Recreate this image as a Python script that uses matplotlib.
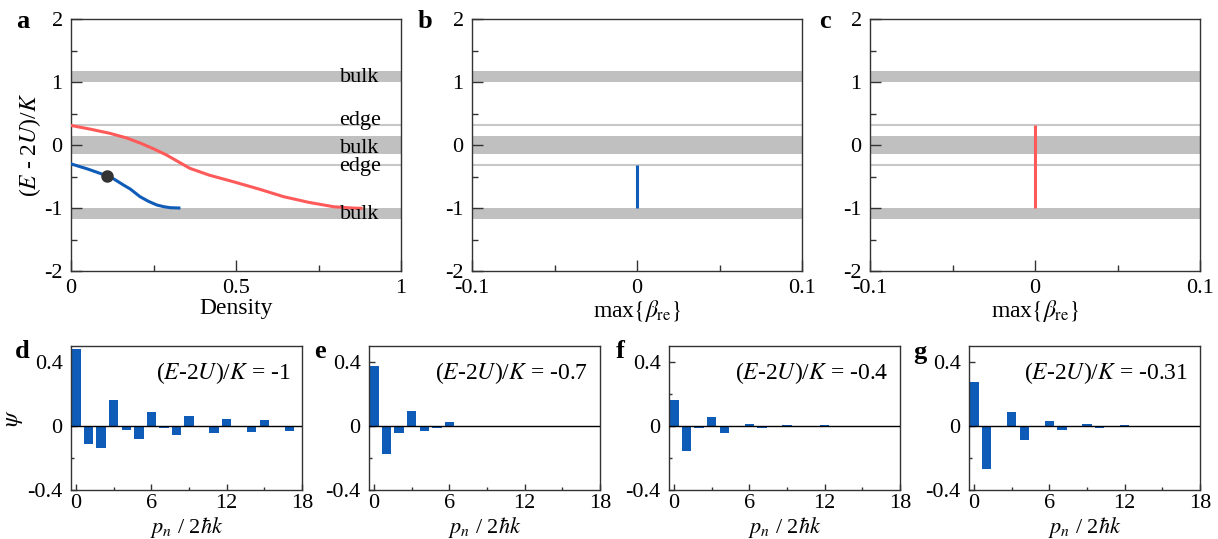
import matplotlib
matplotlib.use("Agg")
import matplotlib.pyplot as plt
from matplotlib.ticker import MultipleLocator

plt.rcParams['font.family'] = ['Liberation Serif', 'DejaVu Serif']
plt.rcParams['mathtext.fontset'] = 'stix'

# --- donnees panneau a ---
red_density = [0.0, 0.06, 0.118, 0.17, 0.21, 0.25, 0.29, 0.33, 0.36, 0.42, 0.49, 0.57, 0.644, 0.72, 0.796, 0.85, 0.879]
red_energy = [0.31, 0.25, 0.185, 0.11, 0.03, -0.06, -0.16, -0.28, -0.37, -0.48, -0.58, -0.70, -0.82, -0.91, -0.98, -1.0, -1.005]
blue_density = [0.0, 0.05, 0.108, 0.13, 0.159, 0.18, 0.209, 0.235, 0.26, 0.28, 0.30, 0.327]
blue_energy = [-0.30, -0.38, -0.487, -0.54, -0.635, -0.70, -0.82, -0.895, -0.952, -0.978, -0.995, -1.0]
marker_point = (0.11, -0.49)

bulk_bands = [(1.0, 1.17), (-0.14, 0.14), (-1.17, -1.0)]
edge_levels = [0.31, -0.31]
band_labels = [("bulk", 1.0), ("edge", 0.31), ("bulk", -0.13), ("edge", -0.42), ("bulk", -1.18)]

# --- panneaux b et c ---
b_range = (-1.0, -0.31)
c_range = (-1.0, 0.31)

# --- panneaux d-g : amplitudes psi ---
pn = list(range(18))
psi_d = [0.483, -0.113, -0.135, 0.163, -0.027, -0.081, 0.09, -0.013, -0.056, 0.06, -0.008, -0.044, 0.046, -0.006, -0.035, 0.038, -0.004, -0.029]
psi_e = [0.377, -0.173, -0.046, 0.094, -0.033, -0.013, 0.025, -0.008, -0.002, 0.002, -0.001, 0.001, 0, 0, 0, 0, 0, 0]
psi_f = [0.165, -0.154, -0.01, 0.054, -0.042, -0.004, 0.015, -0.013, 0.0, 0.006, -0.006, 0.0, 0.004, 0, 0, 0, 0, 0]
psi_g = [0.273, -0.269, 0.0, 0.09, -0.085, 0.0, 0.031, -0.027, 0.0, 0.01, -0.01, 0.0, 0.004, -0.004, 0.0, 0.002, 0, 0]
energies = ["-1", "-0.7", "-0.4", "-0.31"]
letters_bottom = ["d", "e", "f", "g"]

BLUE = '#0f5cb8'
RED = '#ff5a5a'
GRAY = '#c0c0c0'
EDGE = '#c8c8c8'
SPINE = '#333333'

W, H = 1218, 539
fig = plt.figure(figsize=(W / 100, H / 100), dpi=100)


def px_axes(x0, y0, x1, y1):
    return fig.add_axes([x0 / W, 1 - y1 / H, (x1 - x0) / W, (y1 - y0) / H])


def style(ax, major, minor):
    for s in ax.spines.values():
        s.set_color(SPINE)
        s.set_linewidth(1.0)
    ax.tick_params(which='both', direction='in', colors=SPINE, labelcolor='black',
                   labelsize=16, top=False, right=False, pad=6)
    ax.tick_params(which='major', length=major, width=1)
    ax.tick_params(which='minor', length=minor, width=1)


def energy_background(ax):
    for lo, hi in bulk_bands:
        ax.axhspan(lo, hi, color=GRAY, lw=0, zorder=0)
    for lv in edge_levels:
        ax.axhline(lv, color=EDGE, lw=1.5, zorder=0)
    ax.set_ylim(-2, 2)
    ax.yaxis.set_major_locator(MultipleLocator(1))
    ax.yaxis.set_minor_locator(MultipleLocator(0.5))
    style(ax, 8, 4)


top_x = [71, 472, 870]
axes_top = [px_axes(x, 19, x + 330, 271) for x in top_x]

# a
ax = axes_top[0]
energy_background(ax)
ax.plot(red_density, red_energy, color=RED, lw=2.2, zorder=3)
ax.plot(blue_density, blue_energy, color=BLUE, lw=2.2, zorder=3)
ax.plot(*marker_point, 'o', color=SPINE, ms=8, zorder=4)
for txt, yv in band_labels:
    ax.text(0.814, yv, txt, fontsize=16, va='baseline', ha='left', zorder=5)
ax.set_xlim(0, 1)
ax.xaxis.set_major_locator(MultipleLocator(0.5))
ax.xaxis.set_minor_locator(MultipleLocator(0.25))
ax.set_xticks([0, 0.5, 1], ['0', '0.5', '1'])
ax.set_yticks([-2, -1, 0, 1, 2], ['-2', '-1', '0', '1', '2'])
ax.set_xlabel('Density', fontsize=17, labelpad=0)
ax.set_ylabel(r'($E$ - 2$U$)/$K$', fontsize=17, labelpad=1)

# b, c
for ax, rng, col in [(axes_top[1], b_range, BLUE), (axes_top[2], c_range, RED)]:
    energy_background(ax)
    ax.vlines(0, rng[0], rng[1], color=col, lw=2.2, zorder=3)
    ax.set_xlim(-0.1, 0.1)
    ax.set_xticks([-0.1, 0, 0.1], ['-0.1', '0', '0.1'])
    ax.xaxis.set_minor_locator(MultipleLocator(0.05))
    ax.set_yticks([-2, -1, 0, 1, 2], ['-2', '-1', '0', '1', '2'])
    ax.set_xlabel(r'max$\{\beta_{\rm re}\}$', fontsize=17, labelpad=0)

for ax, lt, xc in zip(axes_top, ['a', 'b', 'c'], [23, 425, 825]):
    fig.text(xc / W, 1 - 22 / H, lt, fontsize=19, fontweight='bold', ha='center', va='center')

# d-g
bottom_x = [71, 369, 669, 969]
for i, (x0, psi, en, lt) in enumerate(zip(bottom_x, [psi_d, psi_e, psi_f, psi_g], energies, letters_bottom)):
    ax = px_axes(x0, 346, x0 + 231, 490)
    ax.bar(pn, psi, width=0.75, color=BLUE, zorder=2)
    ax.axhline(0, color='black', lw=1, zorder=3)
    ax.set_xlim(-0.4, 18)
    ax.set_ylim(-0.4, 0.5)
    ax.set_xticks([0, 6, 12, 18], ['0', '6', '12', '18'])
    ax.xaxis.set_minor_locator(MultipleLocator(3))
    ax.set_yticks([-0.4, 0, 0.4], ['-0.4', '0', '0.4'])
    ax.yaxis.set_minor_locator(MultipleLocator(0.2))
    style(ax, 4, 2.5)
    ax.tick_params(axis='x', pad=3)
    ax.set_xlabel(r'$p_n$ / 2$\hbar k$', fontsize=16, labelpad=1)
    if i == 0:
        ax.set_ylabel(r'$\psi$', fontsize=17, labelpad=2)
    ax.text(0.95, 0.81, r'($E$-2$U$)/$K$ = ' + en, transform=ax.transAxes,
            fontsize=17, ha='right', va='center')
    fig.text((x0 - 49) / W, 1 - 352 / H, lt, fontsize=19, fontweight='bold',
             ha='center', va='center')

fig.savefig('out.png', dpi=100)
